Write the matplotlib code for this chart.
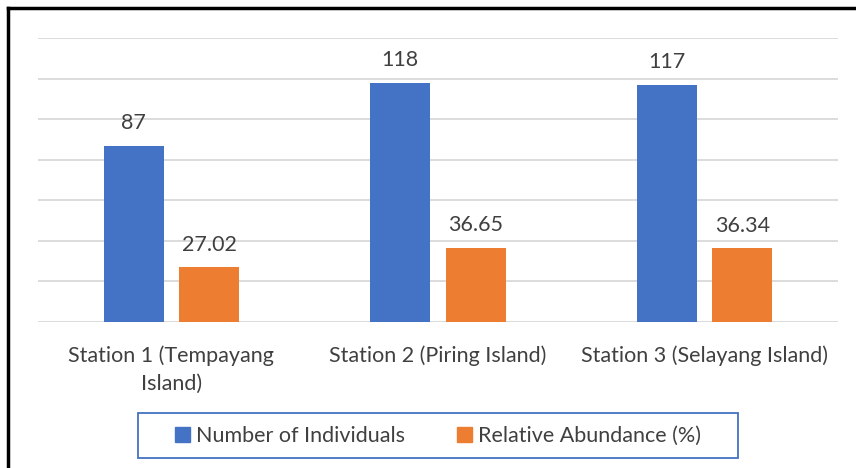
import numpy as np
import matplotlib
matplotlib.use("Agg")
from matplotlib import pyplot as plt
from matplotlib.patches import Rectangle, Patch
from matplotlib.lines import Line2D

stations = ["Station 1 (Tempayang\nIsland)", "Station 2 (Piring Island)",
            "Station 3 (Selayang Island)"]
individuals = [87, 118, 117]
abundance = [27.02, 36.65, 36.34]
ind_labels = ["87", "118", "117"]
abd_labels = ["27.02", "36.65", "36.34"]

BLUE = "#4472C4"
ORANGE = "#ED7D31"
GRID = "#D9D9D9"
TXT = "#404040"
FONT = "Lato"
FS = 15.5

W, H = 856, 468
fig = plt.figure(figsize=(W / 100, H / 100), dpi=100)
fig.patch.set_facecolor("white")
ax = fig.add_axes([38 / W, 1 - 322 / H, 800 / W, 284 / H])

x = np.arange(len(stations))
bw = 0.225
off = 0.1415
b1 = ax.bar(x - off, individuals, bw, color=BLUE, zorder=3)
b2 = ax.bar(x + off, abundance, bw, color=ORANGE, zorder=3)

for bars, labs in ((b1, ind_labels), (b2, abd_labels)):
    for r, lab in zip(bars, labs):
        ax.annotate(lab, (r.get_x() + r.get_width() / 2, r.get_height()),
                    xytext=(0, 9), textcoords="offset points",
                    ha="center", va="bottom", fontsize=FS,
                    color=TXT, family=FONT)

ax.set_xlim(-0.5, 2.5)
ax.set_ylim(0, 140)
ax.set_yticks(np.arange(0, 141, 20))
ax.yaxis.grid(True, color=GRID, lw=1.3, zorder=0)
ax.tick_params(axis="y", left=False, labelleft=False)
ax.set_xticks(x)
ax.set_xticklabels(stations, fontsize=FS, color=TXT, family=FONT,
                   linespacing=1.45)
ax.tick_params(axis="x", length=0, pad=17)
for s in ax.spines.values():
    s.set_visible(False)

# legend box
fig.patches.append(Rectangle((138 / W, 1 - 458 / H), 600 / W, 45 / H,
                             transform=fig.transFigure, fill=False,
                             ec=BLUE, lw=1.3))
handles = [Patch(color=BLUE, label="Number of Individuals"),
           Patch(color=ORANGE, label="Relative Abundance (%)")]
fig.legend(handles=handles, loc="center", bbox_to_anchor=(438 / W, 1 - 436 / H),
           ncol=2, frameon=False, prop={"family": FONT, "size": FS},
           labelcolor=TXT, handlelength=0.7, handleheight=0.7,
           handletextpad=0.3, columnspacing=2.4)

# outer border (top and left visible)
fig.add_artist(Line2D([8 / W, 1], [1 - 8 / H, 1 - 8 / H], color="black",
                      lw=2.5, transform=fig.transFigure))
fig.add_artist(Line2D([8 / W, 8 / W], [0, 1 - 8 / H], color="black",
                      lw=2.5, transform=fig.transFigure))

fig.savefig("out.png", dpi=100)
